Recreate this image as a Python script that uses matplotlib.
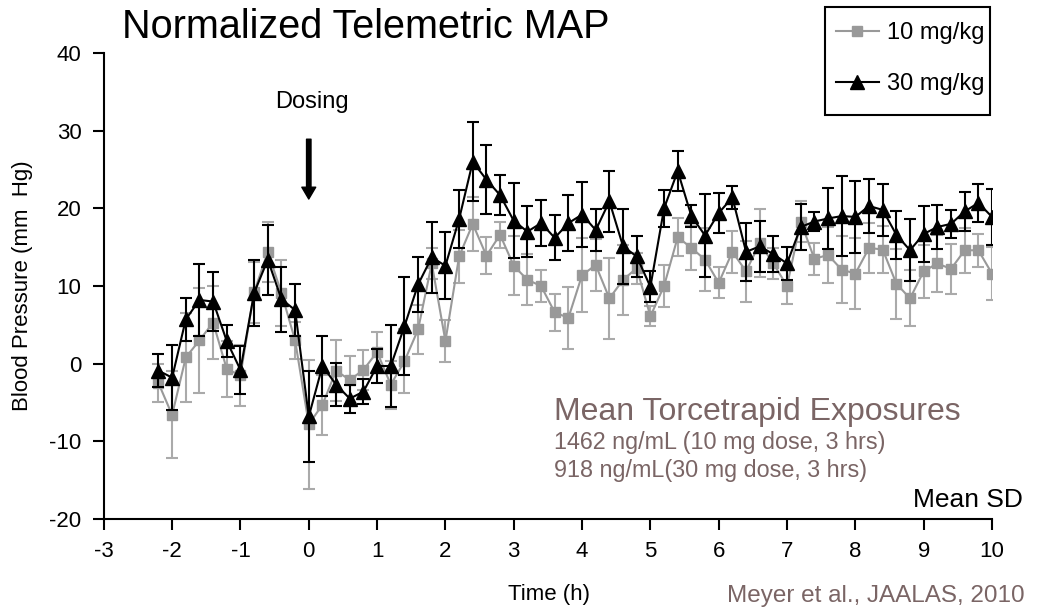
import matplotlib
matplotlib.use("Agg")
import matplotlib.pyplot as plt
from matplotlib.lines import Line2D
from matplotlib.patches import Rectangle

# time points (h)
hours = [-2.2, -2.0, -1.8, -1.6, -1.4, -1.2, -1.0, -0.8, -0.6, -0.4, -0.2,
         0.0, 0.2, 0.4, 0.6, 0.8, 1.0, 1.2, 1.4, 1.6, 1.8, 2.0,
         2.2, 2.4, 2.6, 2.8, 3.0, 3.2, 3.4, 3.6, 3.8, 4.0,
         4.2, 4.4, 4.6, 4.8, 5.0, 5.2, 5.4, 5.6, 5.8, 6.0,
         6.2, 6.4, 6.6, 6.8, 7.0, 7.2, 7.4, 7.6, 7.8, 8.0,
         8.2, 8.4, 8.6, 8.8, 9.0, 9.2, 9.4, 9.6, 9.8, 10.0]

# 10 mg/kg mean and SD
low_mean = [-2.5, -6.6, 0.8, 3.0, 5.3, -0.7, -1.5, 9.2, 14.4, 9.1, 3.0,
            -7.8, -5.3, -0.9, -2.1, -0.8, 1.5, -2.7, 0.3, 4.4, 12.9, 2.9,
            13.8, 18.0, 13.9, 16.6, 12.6, 10.8, 10.0, 6.6, 5.9, 11.4,
            12.7, 8.4, 10.8, 12.3, 6.1, 10.0, 16.3, 14.9, 13.4, 10.4,
            14.4, 11.9, 15.5, 12.9, 10.0, 18.3, 13.5, 14.0, 12.1, 11.6,
            14.9, 14.7, 10.3, 8.4, 11.9, 12.9, 12.2, 14.6, 14.6, 11.6]
low_sd = [2.5, 5.6, 5.7, 6.8, 4.7, 3.6, 3.9, 3.9, 3.9, 4.2, 2.4,
          8.3, 3.9, 3.9, 3.1, 2.6, 2.6, 3.1, 4.1, 3.2, 2.0, 2.7,
          3.4, 3.5, 2.4, 1.7, 3.8, 3.3, 2.0, 2.4, 4.0, 4.8,
          3.4, 5.2, 4.5, 2.0, 1.3, 2.7, 2.4, 2.8, 4.1, 2.0,
          2.7, 3.9, 4.4, 2.0, 2.3, 2.6, 2.1, 3.6, 4.3, 4.6,
          3.2, 3.0, 4.5, 3.6, 3.4, 3.7, 3.2, 2.9, 2.1, 3.4]

# 30 mg/kg mean and SD
high_mean = [-0.9, -1.8, 5.7, 8.2, 8.0, 2.9, -0.8, 9.1, 13.4, 8.3, 6.9,
             -6.8, -0.3, -2.7, -4.5, -3.6, -0.3, -0.3, 4.8, 10.2, 13.7, 12.6,
             18.6, 26.0, 23.7, 21.7, 18.4, 17.0, 18.1, 16.2, 18.1, 19.2,
             17.2, 20.9, 15.1, 13.8, 9.9, 20.0, 24.8, 19.0, 16.5, 19.4,
             21.4, 14.4, 15.1, 14.1, 12.9, 17.6, 18.3, 18.7, 19.0, 18.9,
             20.3, 19.8, 16.6, 14.6, 16.7, 17.6, 18.0, 19.6, 20.7, 18.9]
high_sd = [2.1, 4.2, 2.8, 4.6, 3.8, 2.1, 3.1, 4.3, 4.5, 4.2, 3.3,
           5.9, 3.9, 2.8, 1.8, 1.6, 2.2, 5.3, 6.3, 3.5, 4.6, 4.3,
           3.7, 5.1, 4.4, 2.6, 4.8, 3.3, 3.0, 2.9, 3.6, 4.2,
           2.7, 3.9, 4.8, 2.6, 2.0, 2.4, 2.6, 1.4, 5.4, 2.6,
           1.5, 3.7, 3.3, 2.3, 2.1, 3.0, 1.2, 3.9, 5.1, 4.6,
           3.5, 3.3, 3.1, 4.0, 3.6, 2.8, 1.8, 2.5, 2.4, 3.6]

x_ticks = list(range(-3, 11))
y_ticks = [-20, -10, 0, 10, 20, 30, 40]

font = ['Liberation Sans', 'DejaVu Sans']
brown = '#7a6565'
grey = '#999999'

fig = plt.figure(figsize=(10.38, 6.08), dpi=100)
ax = fig.add_axes([0.1, 0.1464, 0.8557, 0.7664])

ax.errorbar(hours, low_mean, yerr=low_sd, color=grey, ecolor='#aaaaaa',
            marker='s', markersize=7, linewidth=1.5, elinewidth=1.5,
            capsize=4, capthick=1.5, zorder=2)
ax.errorbar(hours, high_mean, yerr=high_sd, color='black', ecolor='black',
            marker='^', markersize=9.5, linewidth=1.5, elinewidth=1.5,
            capsize=4, capthick=1.5, zorder=3)

ax.set_xlim(-3, 10)
ax.set_ylim(-20, 40)
ax.set_xticks(x_ticks)
ax.set_yticks(y_ticks)
ax.set_xticklabels([str(v) for v in x_ticks], family=font, fontsize=16)
ax.set_yticklabels([str(v) for v in y_ticks], family=font, fontsize=16)
ax.tick_params(direction='out', length=8, width=1.5, pad=8)
for side in ['top', 'right']:
    ax.spines[side].set_visible(False)
for side in ['left', 'bottom']:
    ax.spines[side].set_linewidth(1.5)

ax.set_xlabel('Time (h)', family=font, fontsize=16)
ax.xaxis.set_label_coords(0.501, -0.14)
ax.set_ylabel('Blood Pressure (mm  Hg)', family=font, fontsize=16)
ax.yaxis.set_label_coords(-0.08, 0.5)

fig.text(0.118, 0.955, 'Normalized Telemetric MAP', family=font,
         fontsize=28.5, va='center', ha='left')

# dosing arrow
ax.annotate('', xy=(0, 21.2), xytext=(0, 28.9),
            arrowprops=dict(facecolor='black', edgecolor='black',
                            width=3.2, headwidth=10, headlength=8.5))
ax.text(0.045, 33.7, 'Dosing', family=font, fontsize=17,
        ha='center', va='center')

ax.text(3.59, -6.2, 'Mean Torcetrapid Exposures', family=font,
        fontsize=23, color=brown, va='center', ha='left')
ax.text(3.59, -10.2, '1462 ng/mL (10 mg dose, 3 hrs)', family=font,
        fontsize=16.8, color=brown, va='center', ha='left')
ax.text(3.59, -13.8, '918 ng/mL(30 mg dose, 3 hrs)', family=font,
        fontsize=16.8, color=brown, va='center', ha='left')

fig.text(0.985, 0.178, 'Mean SD', family=font, fontsize=19,
         ha='right', va='center')
fig.text(0.987, 0.02, 'Meyer et al., JAALAS, 2010', family=font,
         fontsize=17.5, color=brown, ha='right', va='center')

# legend box drawn by hand, entries placed inside it
fig.add_artist(Rectangle((825 / 1038, 1 - 115 / 608), 165 / 1038, 108 / 608,
                         transform=fig.transFigure, fill=False,
                         edgecolor='black', linewidth=1.5))
handles = [Line2D([], [], color=grey, marker='s', markersize=7, linewidth=1.5),
           Line2D([], [], color='black', marker='^', markersize=9.5, linewidth=1.5)]
fig.legend(handles, ['10 mg/kg', '30 mg/kg'], loc='upper left',
           bbox_to_anchor=(836 / 1038, 1 - 22 / 608),
           prop={'family': font, 'size': 17}, frameon=False,
           handlelength=1.82, handletextpad=0.34, labelspacing=1.23,
           borderpad=0, borderaxespad=0)

fig.savefig('out.png', dpi=100)
